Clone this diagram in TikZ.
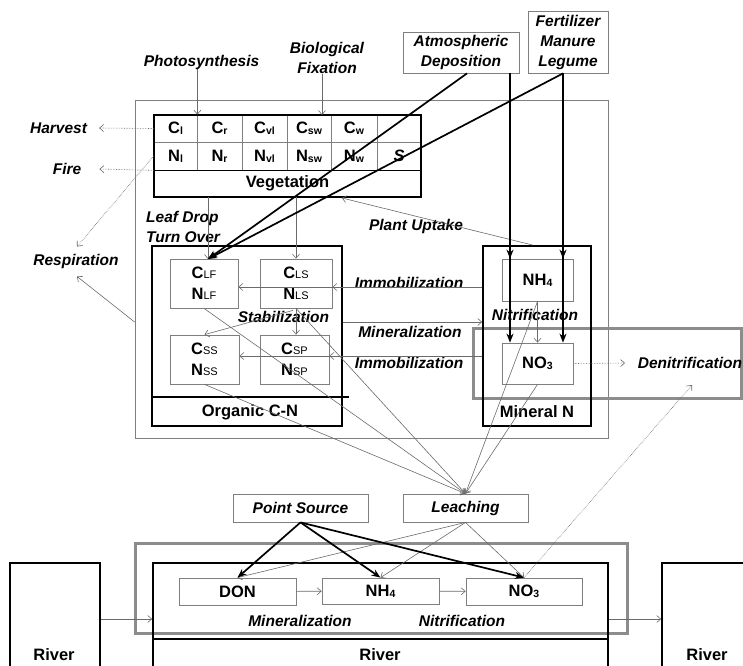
\documentclass[tikz,border=0pt]{standalone}
\usepackage{fontspec}
\setmainfont{Liberation Sans}
\usetikzlibrary{arrows.meta,calc}
\definecolor{lg}{HTML}{7F7F7F}
\definecolor{hg}{HTML}{8C8C8C}
\definecolor{ag}{HTML}{6A6A6A}
\newcommand{\vsub}[1]{\raisebox{-1pt}{\fontsize{10.5}{10}\selectfont\bfseries #1}}
\newcommand{\osub}[1]{{\fontsize{11}{10}\selectfont\mdseries #1}}
\newcommand{\nsub}[1]{\raisebox{-1pt}{\fontsize{10.5}{10}\selectfont #1}}
\begin{document}
\begin{tikzpicture}[x=1pt,y=-1pt,
 every node/.style={inner sep=0pt, font=\bfseries\fontsize{16.5}{18}\selectfont},
 sz/.style 2 args={minimum width=#1pt,minimum height=#2pt},
 tbox/.style={draw=lg, line width=0.8pt},
 kbox/.style={draw=black, line width=1.7pt},
 hbox/.style={draw=hg, line width=3pt},
 pool/.style={tbox, align=center, font=\bfseries\fontsize{16.5}{21}\selectfont},
 lbl/.style={font=\bfseries\itshape\fontsize{15.5}{20}\selectfont, align=center},
 arr/.style={draw=ag, line width=0.6pt, -{Straight Barb[length=4pt,width=7pt]}},
 darr/.style={arr, densely dotted},
 karr/.style={draw=black, line width=1.7pt, -{Stealth[length=9pt,width=7pt]}},
]
\useasboundingbox (0,0) rectangle (743,665);

% outer and highlight boxes
\node[tbox,sz={473}{338}] (outer) at (371.5,269) {};
\node[hbox,sz={268}{70}] (hlmin) at (607,363) {};
\node[hbox,sz={492}{90}] (hlriv) at (381,588) {};

% vegetation table
\node[tbox,sz={43}{27}] (cl) at (175.5,128.5) {C\vsub{l}};
\node[tbox,sz={45}{27}] (cr) at (219.5,128.5) {C\vsub{r}};
\node[tbox,sz={45}{27}] (cvl) at (264.5,128.5) {C\vsub{vl}};
\node[tbox,sz={44}{27}] (csw) at (309,128.5) {C\vsub{sw}};
\node[tbox,sz={46}{27}] (cw) at (354,128.5) {C\vsub{w}};
\node[tbox,sz={44}{27}] (cx) at (399,128.5) {};
\node[tbox,sz={43}{28}] (nl) at (175.5,156) {N\vsub{l}};
\node[tbox,sz={45}{28}] (nr) at (219.5,156) {N\vsub{r}};
\node[tbox,sz={45}{28}] (nvl) at (264.5,156) {N\vsub{vl}};
\node[tbox,sz={44}{28}] (nsw) at (309,156) {N\vsub{sw}};
\node[tbox,sz={46}{28}] (nw) at (354,156) {N\vsub{w}};
\node[tbox,sz={44}{28}] (ns) at (399,156) {\itshape S};
\node[sz={267}{27}] (veg) at (287.5,183.5) {Vegetation};
\node[kbox,sz={267}{82}] (vegtab) at (287.5,156) {};
\draw[line width=1.7pt] (nl.south west) -- (ns.south east);

% top labels
\node[lbl] (photo) at (201.5,62) {Photosynthesis};
\node[lbl] (bio) at (327,58) {Biological\\Fixation};
\node[tbox,lbl,sz={116}{41}] (atm) at (461,52.5) {Atmospheric\\Deposition};
\node[tbox,lbl,sz={80}{62}] (fert) at (568,42) {Fertilizer\\Manure\\Legume};
\node[lbl] (harv) at (58.5,128) {Harvest};
\node[lbl] (fire) at (67,169) {Fire};
\node[lbl] (resp) at (76,261) {Respiration};
\node[lbl,align=left,anchor=west] (leaf) at (146,227) {Leaf Drop\\Turn Over};
\node[lbl] (uptake) at (416,226) {Plant Uptake};

% organic C-N
\node[kbox,sz={190}{180}] (org) at (247,336) {};
\draw[line width=1.7pt] (org.west |- 0,397) -- (349,397);
\node (orglab) at (250,412) {Organic C-N};
\node[pool,sz={68}{49}] (lf) at (204,283.5) {C\osub{LF}\\N\osub{LF}};
\node[pool,sz={72}{49}] (ls) at (296,283.5) {C\osub{LS}\\N\osub{LS}};
\node[pool,sz={69}{49}] (ss) at (204.5,359.5) {C\osub{SS}\\N\osub{SS}};
\node[pool,sz={69}{49}] (sp) at (294.5,359.5) {C\osub{SP}\\N\osub{SP}};

% mineral N
\node[kbox,sz={108}{180}] (minb) at (537,336) {};
\node (minlab) at (537,412) {Mineral N};
\node[tbox,sz={71}{42}] (nh4) at (537.5,280) {NH\nsub{4}};
\node[tbox,sz={71}{41}] (no3) at (537.5,363.5) {NO\nsub{3}};
\node[lbl] (nitr) at (535,315) {Nitrification};
\node[lbl] (denit) at (690,363) {Denitrification};

% middle labels
\node[lbl] (imm1) at (409,283) {Immobilization};
\node[lbl] (minz) at (410,332) {Mineralization};
\node[lbl] (imm2) at (409,363) {Immobilization};
\node[lbl] (stab) at (283.5,317) {Stabilization};

% bottom
\node[tbox,lbl,sz={135}{28}] (ps) at (300.5,508) {Point Source};
\node[tbox,lbl,sz={125}{28}] (leach) at (465.5,508) {Leaching};
\node[kbox,sz={455}{120}] (river) at (380.5,623) {};
\draw[line width=1.7pt] (river.west |- 0,639) -- (river.east |- 0,639);
\node (rivlab) at (380,655) {River};
\node[kbox,sz={90}{120}] (rl) at (55,623) {};
\node (rllab) at (54,655) {River};
\node[kbox,sz={90}{120}] (rr) at (707,623) {};
\node (rrlab) at (707,655) {River};
\node[tbox,sz={117}{27}] (don) at (237.5,591.5) {DON};
\node[tbox,sz={117}{26}] (nh4r) at (380.5,591) {NH\nsub{4}};
\node[tbox,sz={116}{27}] (no3r) at (524,591.5) {NO\nsub{3}};
\node[lbl] (rmin) at (300,621) {Mineralization};
\node[lbl] (rnit) at (462,621) {Nitrification};

% coordinates
\coordinate (bioin) at (322,115);
\coordinate (lfin) at (208,259);
\coordinate (upin) at (342,198);
\coordinate (denitpt) at (625,363);
\coordinate (rivdn) at (692,385);

% thin arrows
\draw[arr] (photo.south -| cl.east) -- (cl.north east);
\draw[arr] (bio.south -| bioin) -- (bioin);
\draw[darr] (cl.west) -- ($(harv.east)+(12,0)$);
\draw[darr] (nl.south west) -- ($(fire.east)+(18,0)$);
\draw[darr] (nl.west) -- ($(resp.north)+(1,-7)$);
\draw[arr] (outer.west |- 0,322) -- ($(resp.south)+(1,8)$);
\draw[arr] (veg.south -| lfin) -- (lfin);
\draw[arr] (veg.south -| ls.north) -- (ls.north);
\draw[arr] (minb.west |- 0,287) -- (ls.east |- 0,287);
\draw[arr] (minb.west |- 0,287) -- (lf.east |- 0,287);
\draw[arr] (org.east |- 0,322) -- (minb.west |- 0,322);
\draw[arr] (minb.west |- 0,356) -- (sp.east |- 0,356);
\draw[arr] (minb.west |- 0,356) -- (ss.east |- 0,356);
\draw[arr] ($(minb.north)+(-4,0)$) -- (upin);
\draw[arr] (ls.south) -- (sp.north -| ls.south);
\draw[arr] ($(ls.south)+(-3,2)$) -- (ss.north);
\draw[arr] (nh4.south) -- (no3.north);
\draw[darr] (no3.east) -- (denitpt);
\draw[arr] (lf.south) -- (leach.north);
\draw[arr] (ls.south) -- (leach.north);
\draw[arr] (ss.south) -- (leach.north);
\draw[arr] (nh4.south) -- (leach.north);
\draw[arr] (no3.south) -- (leach.north);
\draw[arr] (leach.south) -- (don.north);
\draw[arr] (leach.south) -- (nh4r.north);
\draw[arr] (leach.south) -- (no3r.north);
\draw[arr] (don) -- (nh4r);
\draw[arr] (nh4r) -- (no3r);
\draw[darr] (no3r.north) -- (rivdn);
\draw[arr] (rl.east |- 0,619) -- (river.west |- 0,619);
\draw[arr] (river.east |- 0,619) -- (rr.west |- 0,619);

% thick arrows
\draw[karr] ($(atm.south)+(6,0)$) -- (lfin);
\draw[karr] ($(fert.south)+(-5,0)$) -- (lfin);
\draw[karr] (atm.south -| 510,0) -- (nh4.north -| 510,0);
\draw[karr] (atm.south -| 510,0) -- (no3.north -| 510,0);
\draw[karr] (fert.south -| 563,0) -- (nh4.north -| 563,0);
\draw[karr] (fert.south -| 563,0) -- (no3.north -| 563,0);
\draw[karr] (ps.south) -- (don.north);
\draw[karr] (ps.south) -- (nh4r.north);
\draw[karr] (ps.south) -- (no3r.north);
\end{tikzpicture}
\end{document}
